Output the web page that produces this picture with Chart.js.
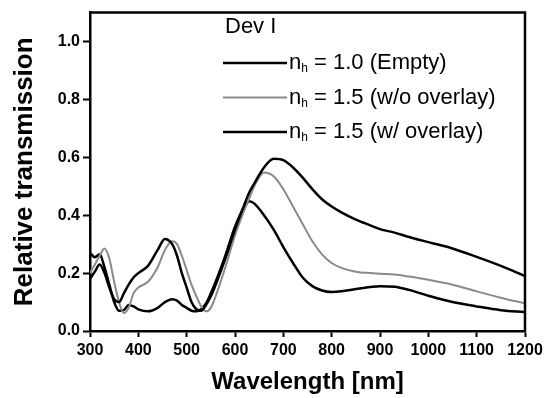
<!DOCTYPE html>
<html>
<head>
<meta charset="utf-8">
<script src="https://cdn.jsdelivr.net/npm/chart.js@4.4.1/dist/chart.umd.min.js"></script>
<style>
  html, body { margin: 0; padding: 0; background: #fff; }
  #wrap { width: 552px; height: 398px; }
</style>
</head>
<body>
<div id="wrap"><canvas id="trans" width="552" height="398"></canvas></div>
<script>
var wavelength = [300,310,320,330,340,350,360,370,380,390,400,420,440,455,470,480,490,500,510,520,530,540,550,560,580,600,620,630,640,660,680,700,720,740,760,780,800,820,850,880,900,930,960,1000,1050,1100,1150,1200];

// n_h = 1.0 (Empty)
var empty = [0.18,0.205,0.23,0.2,0.15,0.11,0.1,0.13,0.16,0.185,0.2,0.225,0.28,0.318,0.3,0.26,0.2,0.15,0.1,0.075,0.07,0.09,0.12,0.16,0.25,0.35,0.44,0.48,0.51,0.565,0.595,0.59,0.565,0.53,0.49,0.455,0.43,0.41,0.385,0.365,0.352,0.34,0.325,0.307,0.285,0.256,0.225,0.19];

// n_h = 1.5 (w/o overlay)
var noOverlay = [0.2,0.23,0.26,0.285,0.25,0.17,0.1,0.062,0.08,0.13,0.15,0.17,0.22,0.28,0.31,0.3,0.26,0.21,0.16,0.12,0.085,0.068,0.08,0.12,0.22,0.33,0.42,0.46,0.5,0.548,0.535,0.49,0.43,0.37,0.31,0.265,0.235,0.218,0.205,0.2,0.198,0.195,0.188,0.177,0.16,0.137,0.115,0.095];

// n_h = 1.5 (w/ overlay)
var withOverlay = [0.27,0.255,0.265,0.22,0.16,0.1,0.07,0.072,0.09,0.085,0.075,0.068,0.08,0.1,0.11,0.105,0.09,0.08,0.07,0.068,0.075,0.095,0.13,0.17,0.26,0.36,0.43,0.448,0.44,0.4,0.35,0.29,0.235,0.185,0.155,0.14,0.135,0.137,0.145,0.152,0.155,0.153,0.142,0.122,0.1,0.085,0.072,0.065];

var xTicks = [300,400,500,600,700,800,900,1000,1100,1200];
var yTicks = [0.0,0.2,0.4,0.6,0.8,1.0];

var legendTitle = 'Dev I';
var legendItems = [
  { sub: 'h', rest: ' = 1.0 (Empty)', color: '#000', width: 2.5 },
  { sub: 'h', rest: ' = 1.5 (w/o overlay)', color: '#8a8a8a', width: 2 },
  { sub: 'h', rest: ' = 1.5 (w/ overlay)', color: '#000', width: 2.5 }
];

var FONT = '"Liberation Sans", Arial, sans-serif';

function pts(ys) {
  return wavelength.map(function (x, i) { return { x: x, y: ys[i] }; });
}

// frame on top/right + legend with subscripts
var framePlugin = {
  id: 'frame',
  afterDraw: function (chart) {
    var c = chart.ctx, a = chart.chartArea;
    c.save();
    c.strokeStyle = '#000';
    c.lineWidth = 2.5;
    c.beginPath();
    c.moveTo(a.left, a.top);
    c.lineTo(a.right, a.top);
    c.lineTo(a.right, a.bottom);
    c.stroke();

    c.fillStyle = '#000';
    c.textBaseline = 'alphabetic';
    c.font = '22px ' + FONT;
    c.fillText(legendTitle, 225, 33);

    legendItems.forEach(function (it, i) {
      var base = 69 + i * 34.5;
      var ly = base - 6;
      c.strokeStyle = it.color;
      c.lineWidth = it.width;
      c.beginPath();
      c.moveTo(223, ly);
      c.lineTo(287, ly);
      c.stroke();
      var x = 289;
      c.font = '22px ' + FONT;
      c.fillText('n', x, base);
      x += c.measureText('n').width;
      c.font = '12px ' + FONT;
      c.fillText(it.sub, x, base + 3);
      x += c.measureText(it.sub).width;
      c.font = '22px ' + FONT;
      c.fillText(it.rest, x, base);
    });
    c.restore();
  }
};

new Chart(document.getElementById('trans'), {
  type: 'line',
  data: {
    datasets: [
      { label: 'Empty', data: pts(empty), borderColor: '#000', borderWidth: 2.5 },
      { label: 'w/o overlay', data: pts(noOverlay), borderColor: '#8a8a8a', borderWidth: 2 },
      { label: 'w/ overlay', data: pts(withOverlay), borderColor: '#000', borderWidth: 2.5 }
    ]
  },
  options: {
    responsive: false,
    animation: false,
    layout: { padding: { top: 8, right: 27, left: 0, bottom: 0 } },
    elements: {
      point: { radius: 0 },
      line: { cubicInterpolationMode: 'monotone', fill: false }
    },
    plugins: {
      legend: { display: false },
      tooltip: { enabled: false }
    },
    scales: {
      x: {
        type: 'linear',
        min: 300,
        max: 1200,
        afterFit: function (s) { s.height = 67; },
        afterBuildTicks: function (s) { s.ticks = xTicks.map(function (v) { return { value: v }; }); },
        border: { display: true, color: '#000', width: 2.5 },
        grid: { drawOnChartArea: false, drawTicks: true, tickLength: 6, tickWidth: 2, color: '#000' },
        ticks: {
          color: '#000',
          padding: 4,
          maxRotation: 0,
          font: { family: FONT, size: 16, weight: 'bold' },
          callback: function (v) { return String(v); }
        },
        title: {
          display: true,
          text: 'Wavelength [nm]',
          color: '#000',
          padding: { top: 0, bottom: 1 },
          font: { family: FONT, size: 24, weight: 'bold' }
        }
      },
      y: {
        min: 0,
        max: 1.1,
        afterFit: function (s) { s.width = 90; },
        afterBuildTicks: function (s) { s.ticks = yTicks.map(function (v) { return { value: v }; }); },
        border: { display: true, color: '#000', width: 2.5 },
        grid: { drawOnChartArea: false, drawTicks: true, tickLength: 7, tickWidth: 2, color: '#000' },
        ticks: {
          color: '#000',
          padding: 3,
          font: { family: FONT, size: 16, weight: 'bold' },
          callback: function (v) { return v.toFixed(1); }
        },
        title: {
          display: true,
          text: 'Relative transmission',
          color: '#000',
          padding: { top: 9, bottom: 0 },
          font: { family: FONT, size: 26, weight: 'bold' }
        }
      }
    }
  },
  plugins: [framePlugin]
});
</script>
</body>
</html>
